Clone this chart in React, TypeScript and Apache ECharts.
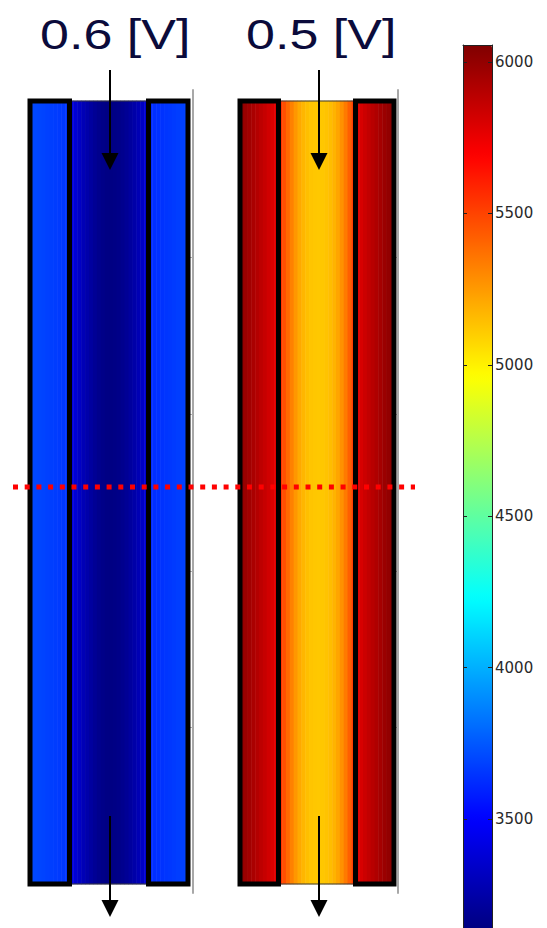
import React, { useEffect, useRef } from 'react';
import * as echarts from 'echarts';

// ---- data ----
const panelTitles = ['0.6 [V]', '0.5 [V]'];
const cellNames = Array.from({ length: 40 }, (_, i) => String(i));

// field value per column (left panel: 0.6 V)
const leftPanelValues = [
  3712, 3706, 3700, 3694, 3688, 3682, 3676, 3670, 3664, 3658,
  3420, 3378, 3335, 3295, 3260, 3228, 3200, 3178, 3162, 3152,
  3150, 3154, 3164, 3180, 3200, 3225, 3255, 3290, 3332, 3380,
  3630, 3636, 3642, 3648, 3655, 3662, 3670, 3678, 3686, 3694,
];
// right panel: 0.5 V
const rightPanelValues = [
  6012, 5988, 5962, 5936, 5910, 5882, 5854, 5826, 5800, 5778,
  5545, 5470, 5395, 5325, 5262, 5210, 5172, 5146, 5130, 5122,
  5120, 5124, 5134, 5152, 5180, 5222, 5278, 5345, 5420, 5510,
  5775, 5805, 5838, 5866, 5895, 5922, 5950, 5978, 6002, 6030,
];
const electrodeCells = [[0, 9], [30, 39]];
const channelCells = [[10, 29]];
const colorbarTicks = [3500, 4000, 4500, 5000, 5500, 6000];
const colorMin = 3140;
const colorMax = 6056;
const jetColors = ['#000080', '#0000ff', '#0080ff', '#00ffff', '#80ff80', '#ffff00', '#ff8000', '#ff0000', '#800000'];
const frameTicks = [1, 2, 3, 4];

const outlineRender = (params: any, api: any) => {
  const a = api.value(0);
  const b = api.value(1);
  const w = api.value(3);
  const p0 = api.coord([a, 0]);
  const p1 = api.coord([b, 0]);
  const bw = api.size([1, 0])[0];
  const cs = params.coordSys;
  return {
    type: 'rect',
    shape: { x: p0[0] - bw / 2, y: cs.y, width: p1[0] - p0[0] + bw, height: cs.height },
    style: { fill: 'none', stroke: w > 2 ? '#000' : '#3a3a3a', lineWidth: w },
  };
};

const outlineData = [
  ...channelCells.map(([a, b]) => [a, b, 0, 1]),
  ...electrodeCells.map(([a, b]) => [a, b, 0, 5]),
];

const arrow = (x: number, y1: number, yBase: number, yTip: number) => [
  { type: 'line', z: 100, shape: { x1: x, y1, x2: x, y2: yBase + 2 }, style: { stroke: '#000', lineWidth: 2 } },
  { type: 'polygon', z: 100, shape: { points: [[x - 8.5, yBase], [x + 8.5, yBase], [x, yTip]] }, style: { fill: '#000' } },
];

export default function App() {
  const ref = useRef<HTMLDivElement>(null);
  useEffect(() => {
    if (!ref.current) return;
    const chart = echarts.init(ref.current, null, { renderer: 'svg' });
    const frameAxis = (gridIndex: number) => ({
      gridIndex,
      type: 'value',
      position: 'right',
      min: -0.0575,
      max: 5.07,
      axisLine: { show: true, onZero: false, lineStyle: { color: '#a8a8a8', width: 2 } },
      axisTick: { show: true, inside: true, length: 3, customValues: frameTicks, lineStyle: { color: '#b0b0b0' } },
      axisLabel: { show: false },
      splitLine: { show: false },
    });
    chart.setOption({
      animation: false,
      backgroundColor: '#ffffff',
      grid: [
        { left: 30, width: 158, top: 101, height: 783 },
        { left: 240, width: 154, top: 101, height: 783 },
        { left: 30, width: 162.5, top: 90, height: 803 },
        { left: 240, width: 158, top: 90, height: 803 },
        { left: 463, width: 29, top: 45, height: 885 },
      ],
      xAxis: [
        { gridIndex: 0, type: 'category', data: cellNames, show: false },
        { gridIndex: 1, type: 'category', data: cellNames, show: false },
        { gridIndex: 2, type: 'value', show: false },
        { gridIndex: 3, type: 'value', show: false },
        {
          gridIndex: 4, type: 'value', position: 'top', z: 10,
          axisLine: { show: true, onZero: false, lineStyle: { color: '#222', width: 1 } },
          axisTick: { show: false }, axisLabel: { show: false }, splitLine: { show: false },
        },
      ],
      yAxis: [
        { gridIndex: 0, type: 'category', data: ['v'], show: false },
        { gridIndex: 1, type: 'category', data: ['v'], show: false },
        frameAxis(2),
        frameAxis(3),
        {
          gridIndex: 4, type: 'value', position: 'left', min: colorMin, max: colorMax, z: 10,
          axisLine: { show: true, onZero: false, lineStyle: { color: '#222', width: 1 } },
          axisTick: { show: true, inside: true, length: 4, customValues: colorbarTicks, lineStyle: { color: '#222' } },
          axisLabel: { show: false }, splitLine: { show: false },
        },
        {
          gridIndex: 4, type: 'value', position: 'right', min: colorMin, max: colorMax, z: 10,
          axisLine: { show: true, onZero: false, lineStyle: { color: '#222', width: 1 } },
          axisTick: { show: true, inside: true, length: 4, customValues: colorbarTicks, lineStyle: { color: '#222' } },
          axisLabel: {
            show: true, customValues: colorbarTicks, margin: 3,
            formatter: (v: number) => String(v),
            fontFamily: 'DejaVu Sans', fontSize: 15, color: '#2a2a2a',
          },
          splitLine: { show: false },
        },
      ],
      visualMap: {
        type: 'continuous',
        min: colorMin,
        max: colorMax,
        seriesIndex: [0, 1],
        left: 463,
        top: 45,
        itemWidth: 29,
        itemHeight: 885,
        padding: 0,
        calculable: false,
        inRange: { color: jetColors },
      },
      series: [
        {
          type: 'heatmap', xAxisIndex: 0, yAxisIndex: 0,
          data: leftPanelValues.map((v, i) => [i, 0, v]),
          itemStyle: { borderWidth: 0 }, emphasis: { disabled: true }, silent: true,
        },
        {
          type: 'heatmap', xAxisIndex: 1, yAxisIndex: 1,
          data: rightPanelValues.map((v, i) => [i, 0, v]),
          itemStyle: { borderWidth: 0 }, emphasis: { disabled: true }, silent: true,
        },
        {
          type: 'custom', xAxisIndex: 0, yAxisIndex: 0, z: 5, silent: true,
          encode: { x: [0, 1], y: 2 }, data: outlineData, renderItem: outlineRender,
        },
        {
          type: 'custom', xAxisIndex: 1, yAxisIndex: 1, z: 5, silent: true,
          encode: { x: [0, 1], y: 2 }, data: outlineData, renderItem: outlineRender,
        },
      ],
      graphic: [
        {
          type: 'text', x: 40, y: 34, scaleX: 1.21, z: 100,
          style: { text: panelTitles[0], x: 0, y: 0, textAlign: 'left', textVerticalAlign: 'middle', fontFamily: 'Liberation Sans', fontSize: 43, fill: '#0b0b3b' },
        },
        {
          type: 'text', x: 246, y: 34, scaleX: 1.21, z: 100,
          style: { text: panelTitles[1], x: 0, y: 0, textAlign: 'left', textVerticalAlign: 'middle', fontFamily: 'Liberation Sans', fontSize: 43, fill: '#0b0b3b' },
        },
        {
          type: 'line', z: 100,
          shape: { x1: 13, y1: 487, x2: 415, y2: 487 },
          style: { stroke: '#ff0000', lineWidth: 5, lineDash: [5, 6.7] },
        },
        ...arrow(110, 70, 153, 170),
        ...arrow(319, 70, 153, 170),
        ...arrow(110, 816, 900, 917),
        ...arrow(319, 816, 900, 917),
      ],
    });
    return () => chart.dispose();
  }, []);
  return <div ref={ref} style={{ position: 'absolute', left: 0, top: 0, width: 547, height: 928, background: '#fff' }} />;
}
